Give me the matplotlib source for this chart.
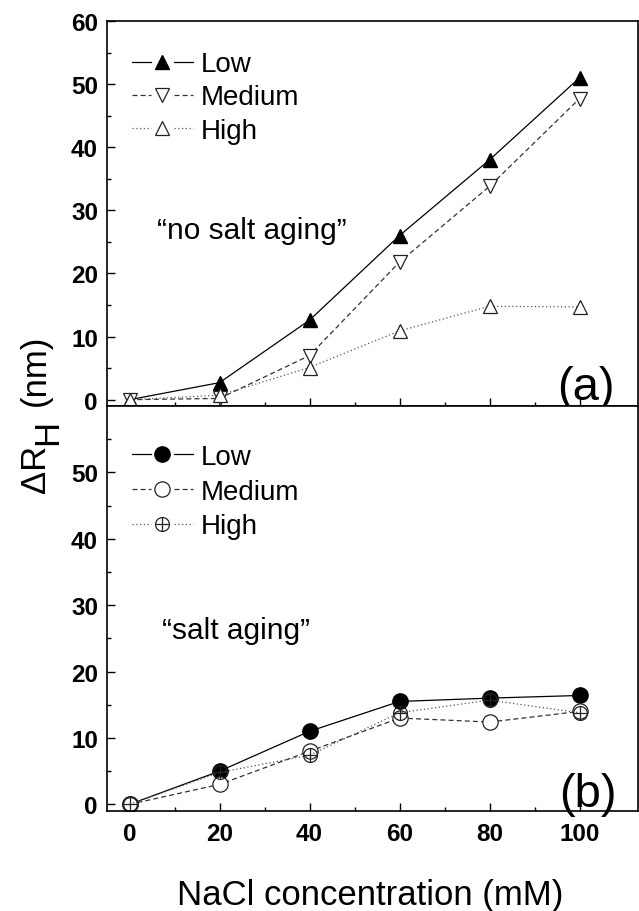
import matplotlib
matplotlib.use("Agg")
import matplotlib.pyplot as plt
from matplotlib.path import Path
from matplotlib.lines import Line2D
from matplotlib.legend_handler import HandlerBase

plt.rcParams['font.family'] = ['Liberation Sans', 'DejaVu Sans']

# -------------------------------
# data
# -------------------------------
nacl = [0, 20, 40, 60, 80, 100]

# (a) no salt aging
a_low = [0.0, 2.7, 12.6, 26.0, 38.0, 51.0]
a_medium = [0.0, 0.2, 7.0, 21.8, 33.8, 47.7]
a_high = [0.0, 0.7, 5.1, 10.9, 14.8, 14.7]

# (b) salt aging
b_low = [0.0, 5.0, 11.0, 15.5, 16.0, 16.4]
b_medium = [0.0, 3.0, 8.0, 13.0, 12.4, 14.0]
b_high = [0.0, 4.8, 7.4, 13.8, 15.7, 13.8]

labels = ["Low", "Medium", "High"]
xticks = [0, 20, 40, 60, 80, 100]


# legend handle: line - marker - line, with a gap round the marker
class GapHandler(HandlerBase):
    def create_artists(self, legend, orig, xdescent, ydescent, width,
                       height, fontsize, trans):
        yc = height / 2 - ydescent
        x0 = -xdescent
        x1 = x0 + width
        xm = (x0 + x1) / 2
        g = 0.19 * width
        out = []
        for xs in ([x0, xm - g], [xm + g, x1]):
            ln = Line2D(xs, [yc, yc])
            ln.update_from(orig)
            ln.set_marker("None")
            ln.set_transform(trans)
            out.append(ln)
        mk = Line2D([xm], [yc])
        mk.update_from(orig)
        mk.set_linestyle("None")
        mk.set_transform(trans)
        out.append(mk)
        return out


# circle with a cross inside
circ = Path.unit_circle()
cross = Path([[-1, 0], [1, 0], [0, -1], [0, 1]],
             [Path.MOVETO, Path.LINETO, Path.MOVETO, Path.LINETO])
oplus = Path.make_compound_path(circ, cross)

fig = plt.figure(figsize=(6.39, 9.12), dpi=100)
L, R = 107 / 639, 638 / 639
ax_a = fig.add_axes([L, 1 - 407 / 912, R - L, (407 - 22) / 912])
ax_b = fig.add_axes([L, 1 - 812 / 912, R - L, (812 - 407) / 912])

styles = [
    dict(ls="-", color="black", lw=0.9),
    dict(ls=(0, (4, 2.5)), color="#333333", lw=0.9),
    dict(ls=(0, (1, 2)), color="#555555", lw=0.9),
]

a_markers = [
    dict(marker="^", ms=10, mfc="black", mec="black"),
    dict(marker="v", ms=10, mfc="white", mec="#222222", mew=0.9),
    dict(marker="^", ms=10, mfc="white", mec="#222222", mew=0.9),
]
b_markers = [
    dict(marker="o", ms=11, mfc="black", mec="black"),
    dict(marker="o", ms=11, mfc="white", mec="#222222", mew=0.9),
    dict(marker=oplus, ms=10, mfc="none", mec="#222222", mew=0.9),
]

panels = [(ax_a, [a_low, a_medium, a_high], a_markers, 0.972, 0.26),
          (ax_b, [b_low, b_medium, b_high], b_markers, 0.955, 0.32)]

for ax, series, mk, leg_top, leg_sp in panels:
    handles = []
    for y, st, m, lab in zip(series, styles, mk, labels):
        h, = ax.plot(nacl, y, label=lab, **st, **m)
        handles.append(h)
    ax.set_xlim(-5, 113)
    ax.set_ylim(-1, 60)
    ax.set_xticks(xticks)
    ax.set_xticks(range(10, 110, 20), minor=True)
    ax.set_yticks(range(5, 60, 10), minor=True)
    ax.tick_params(which="both", direction="in", top=False, right=False,
                   width=1)
    ax.tick_params(which="major", length=6, labelsize=17.5)
    ax.tick_params(which="minor", length=3)
    ax.tick_params(axis="y", pad=6.5)
    ax.tick_params(axis="x", pad=8)
    for sp in ax.spines.values():
        sp.set_linewidth(1.2)
    ax.legend(handles=handles, loc="upper left",
              bbox_to_anchor=(0.01, leg_top),
              frameon=False, fontsize=20, handlelength=2.2,
              handletextpad=0.3, labelspacing=leg_sp, borderaxespad=0.3,
              handler_map={Line2D: GapHandler()})

ax_a.set_yticks(range(0, 61, 10))
ax_a.tick_params(labelbottom=False)
ax_b.set_yticks(range(0, 51, 10))
for ax in (ax_a, ax_b):
    for lbl in ax.get_xticklabels() + ax.get_yticklabels():
        lbl.set_fontweight("bold")

ax_a.text(6.2, 25.6, "\u201cno salt aging\u201d", fontsize=21.5, va="baseline")
ax_b.text(7.3, 25.0, "\u201csalt aging\u201d", fontsize=21.5, va="baseline")
ax_a.text(107.8, 0.15, "(a)", fontsize=34, ha="right", va="baseline")
ax_b.text(108.2, -0.3, "(b)", fontsize=34, ha="right", va="baseline")

# y label: Delta R with a full-size, lowered H
ylab = dict(rotation=90, rotation_mode="anchor", ha="left", va="baseline",
            fontsize=25)
fig.text(45 / 639, 1 - 493 / 912, "\u0394R", **ylab)
fig.text(57 / 639, 1 - 445 / 912, "H", **ylab)
fig.text(45 / 639, 1 - 406 / 912, "(nm)", **ylab)

fig.text(177 / 639, 1 - 905 / 912, "NaCl concentration (mM)", fontsize=25,
         ha="left", va="baseline")

fig.savefig("out.png", dpi=100)
